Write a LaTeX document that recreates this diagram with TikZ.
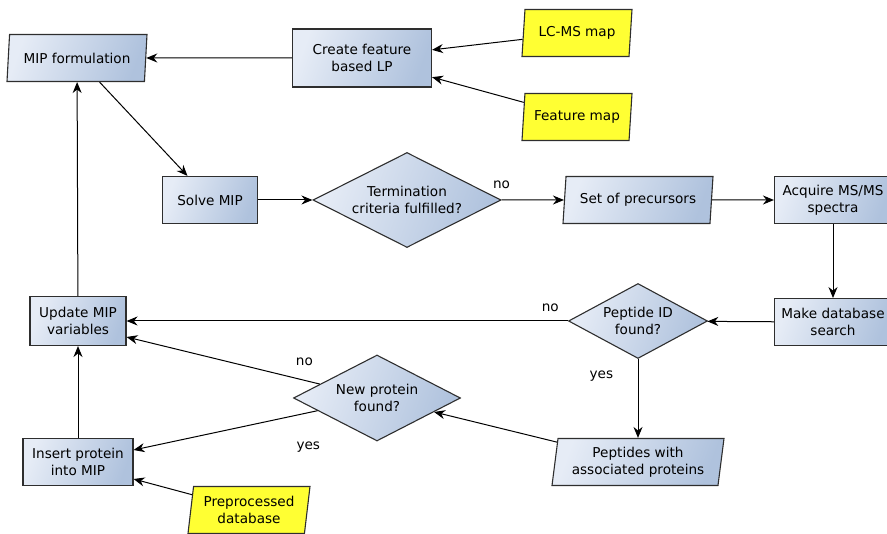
\documentclass[tikz,border=0pt]{standalone}
\usepackage{fontspec}
\setmainfont{DejaVu Sans}
\usetikzlibrary{shapes.geometric, arrows.meta, positioning}
\definecolor{boxlight}{HTML}{E6ECF6}
\definecolor{boxdark}{HTML}{AFC2DD}
\definecolor{edge}{HTML}{2E2E2E}
\definecolor{datayellow}{HTML}{FFFF33}

\begin{document}
\begin{tikzpicture}[
  x=1pt, y=-1pt,
  every node/.style={font=\fontsize{13.6}{17}\selectfont},
  shaded/.style={top color=boxlight, bottom color=boxdark, shading angle=70},
  block/.style={shaded, draw=edge, line width=1.1pt, align=center,
                minimum height=47pt, inner sep=2pt},
  decision/.style={shaded, draw=edge, line width=1.1pt, diamond, aspect=2,
                   align=center, inner sep=1pt},
  para/.style={draw=edge, line width=1.1pt, trapezium, trapezium left angle=80,
               trapezium right angle=100, trapezium stretches body,
               align=center, minimum height=47pt, inner sep=2pt},
  io/.style={para, shaded},
  data/.style={para, fill=datayellow},
  arrow/.style={-{Stealth[length=11pt, width=9pt]}, line width=1pt},
]
\useasboundingbox (0,0) rectangle (887,534);

\node[io, minimum width=140pt] (mip) at (77,58) {MIP formulation};
\node[block, minimum width=139pt, minimum height=58pt] (lp) at (362,58) {Create feature\\based LP};
\node[data, minimum width=110pt] (lcms) at (577,33) {LC-MS map};
\node[data, minimum width=110pt] (feat) at (577,117) {Feature map};

\node[block, minimum width=95pt] (solve) at (210,200) {Solve MIP};
\node[decision, minimum width=188pt, minimum height=95pt] (term) at (407,200) {Termination\\criteria fulfilled?};
\node[io, minimum width=150pt] (prec) at (638,200) {Set of precursors};
\node[block, minimum width=117pt] (acq) at (833,200) {Acquire MS/MS\\spectra};
\node[block, minimum width=117pt, below=74pt of acq] (search) {Make database\\search};

\node[decision, minimum width=139pt, minimum height=75pt] (pepid) at (638,321) {Peptide ID\\found?};
\node[block, minimum width=96pt, minimum height=49pt] (upd) at (78,321) {Update MIP\\variables};
\node[decision, minimum width=167pt, minimum height=86pt] (newprot) at (377,398) {New protein\\found?};
\node[io, minimum width=172pt] (peps) at (638,462) {Peptides with\\associated proteins};
\node[block, minimum width=110pt] (ins) at (78,462) {Insert protein\\into MIP};
\node[data, minimum width=122pt] (prepdb) at (249,510) {Preprocessed\\database};

\draw[arrow] (lp)   -- (mip);
\draw[arrow] (lcms) -- (lp);
\draw[arrow] (feat) -- (lp);
\draw[arrow] (mip)  -- (solve);
\draw[arrow] (solve) -- (term);
\draw[arrow] (term) -- (prec) node[at start, above=7pt] {no};
\draw[arrow] (prec) -- (acq);
\draw[arrow] (acq)  -- (search);
\draw[arrow] (search) -- (pepid);
\draw[arrow] (pepid) -- (upd) node[pos=0.04, above=5pt] {no};
\draw[arrow] (pepid) -- (peps) node[pos=0.215, left=21pt] {yes};
\draw[arrow] (peps) -- (newprot);

% both answers of the protein test go back to the left column
\draw[arrow] (newprot) -- ([yshift=-16pt]upd.east) node[pos=0.08, above=11pt] {no};
\draw[arrow] (newprot) -- ([yshift=12pt]ins.east) node[pos=0.05, below=25pt] {yes};
\draw[arrow] (prepdb) -- ([yshift=-17pt]ins.east);
\draw[arrow] (ins)  -- (upd);
\draw[arrow] (upd)  -- (mip);

\end{tikzpicture}
\end{document}
